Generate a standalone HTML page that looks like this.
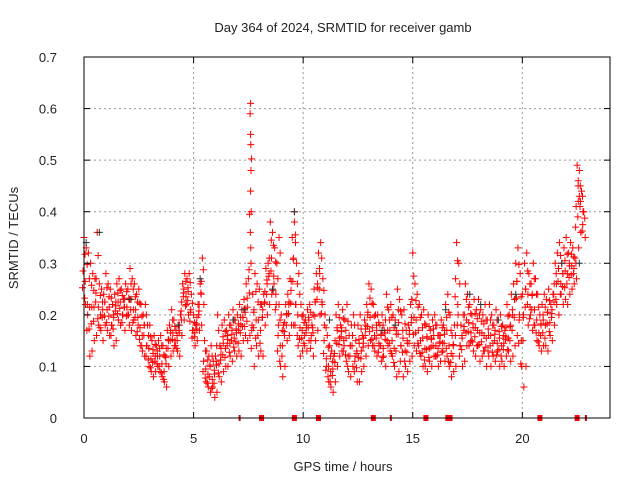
<!DOCTYPE html>
<html><head><meta charset="utf-8"><style>
body{margin:0;background:#fff}
svg text{font-family:"Liberation Sans",sans-serif;font-size:13px;fill:#222}
</style></head><body>
<svg id="chart" width="640" height="480" viewBox="0 0 640 480" xmlns="http://www.w3.org/2000/svg">
<text x="343" y="32" text-anchor="middle">Day 364 of 2024, SRMTID for receiver gamb</text>
<text transform="translate(18,238) rotate(-90)" text-anchor="middle">SRMTID / TECUs</text>
<text x="343" y="471" text-anchor="middle">GPS time / hours</text>
<g id="grid"></g><g id="marks"></g><g id="axes"></g>
</svg>
<script>
const startHour = 0.0;
const stepHour = 0.1;
const hiVals = [.35,.33,.32,.30,.28,.27,.36,.26,.25,.24,.28,.26,.25,.22,.24,.26,.27,.25,.23,.26,.25,.29,.27,.26,.24,.25,.22,.20,.22,.18,.18,.15,.16,.14,.15,.16,.14,.12,.17,.18,.21,.19,.17,.18,.20,.26,.28,.27,.28,.24,.20,.18,.22,.26,.31,.15,.13,.12,.14,.11,.12,.20,.14,.18,.19,.17,.20,.18,.21,.19,.20,.22,.21,.23,.26,.27,.61,.24,.28,.26,.25,.22,.24,.29,.30,.38,.36,.33,.30,.22,.20,.18,.22,.24,.27,.35,.40,.30,.28,.22,.20,.19,.21,.22,.18,.25,.28,.32,.34,.27,.20,.16,.14,.13,.12,.20,.22,.18,.21,.19,.22,.16,.18,.20,.15,.18,.20,.16,.19,.22,.26,.25,.22,.20,.20,.18,.20,.17,.24,.21,.22,.20,.19,.25,.23,.20,.21,.17,.18,.22,.32,.26,.24,.22,.20,.21,.18,.20,.17,.19,.20,.18,.16,.19,.18,.22,.24,.20,.16,.18,.34,.30,.18,.20,.26,.24,.22,.20,.23,.21,.23,.21,.20,.22,.19,.22,.20,.18,.21,.19,.20,.18,.17,.22,.20,.24,.26,.30,.33,.28,.24,.30,.32,.28,.26,.30,.27,.24,.20,.22,.24,.23,.25,.22,.24,.30,.32,.34,.30,.33,.35,.32,.34,.33,.31,.49,.48,.44,.40];
const loVals = [.22,.20,.12,.13,.15,.16,.18,.17,.15,.18,.17,.16,.18,.14,.15,.19,.18,.20,.17,.20,.18,.17,.19,.16,.18,.14,.13,.12,.14,.10,.09,.08,.09,.10,.09,.08,.07,.06,.10,.12,.13,.14,.13,.12,.16,.19,.22,.20,.21,.17,.14,.15,.17,.18,.22,.07,.06,.05,.06,.04,.05,.08,.07,.09,.10,.10,.12,.11,.13,.12,.13,.12,.15,.16,.15,.16,.18,.10,.14,.12,.13,.12,.18,.20,.22,.24,.26,.22,.18,.10,.08,.10,.15,.16,.18,.18,.22,.14,.12,.13,.14,.13,.15,.16,.12,.15,.17,.20,.22,.18,.10,.07,.06,.05,.07,.10,.12,.13,.14,.11,.09,.08,.10,.12,.07,.07,.09,.10,.12,.14,.15,.14,.13,.12,.14,.11,.12,.10,.14,.13,.12,.10,.08,.09,.14,.08,.10,.09,.11,.12,.14,.13,.14,.12,.10,.10,.09,.11,.10,.12,.12,.10,.11,.13,.11,.12,.10,.08,.09,.10,.20,.14,.10,.11,.14,.14,.15,.13,.12,.14,.11,.12,.13,.10,.12,.10,.12,.11,.13,.10,.11,.10,.12,.13,.11,.12,.14,.16,.20,.10,.06,.10,.18,.20,.17,.18,.15,.14,.13,.14,.14,.13,.16,.15,.18,.22,.20,.24,.22,.23,.22,.24,.25,.26,.27,.33,.36,.40,.35];
const spikeT = [7.58,7.6,7.61,7.62,7.6,7.63,7.59,7.61,7.62,8.9,8.95,9.6,9.65,22.55,22.6];
const spikeV = [0.59,0.55,0.53,0.48,0.44,0.40,0.36,0.33,0.30,0.35,0.32,0.38,0.34,0.46,0.43];
const blackT = [0.1,0.7,2.1,4.3,5.3,6.8,7.3,8.6,9.6,11.2,13.6,14.2,16.5,17.6,18.1,18.9,19.7,21.8,22.6];
const blackV = [0.34,0.36,0.23,0.18,0.27,0.19,0.21,0.25,0.40,0.19,0.17,0.18,0.21,0.24,0.22,0.19,0.24,0.30,0.30];
const gapRedT = [8.1,9.6,10.7,13.2,15.6,16.6,16.7,20.8,22.5];
const gapTickT = [7.1,14.0,22.9];
const xTicks = [0,5,10,15,20];
const yTicks = [0,0.1,0.2,0.3,0.4,0.5,0.6,0.7];
const yTickLabels = ["0","0.1","0.2","0.3","0.4","0.5","0.6","0.7"];

const L=84,R=610,T=57,B=418,XMAX=24,YMAX=0.7;
const xs=t=>L+(t/XMAX)*(R-L);
const ys=v=>B-(v/YMAX)*(B-T);
const NS='http://www.w3.org/2000/svg';
function mk(tag,attrs,parent){const e=document.createElementNS(NS,tag);for(const k in attrs)e.setAttribute(k,attrs[k]);parent.appendChild(e);return e;}
const grid=document.getElementById('grid'),marks=document.getElementById('marks'),axes=document.getElementById('axes');
xTicks.forEach(t=>{
  if(t>0){const g=mk('line',{x1:xs(t),x2:xs(t),y1:T,y2:B,stroke:'#999','stroke-dasharray':'2,3'},grid);
  
  }
  const lb=mk('text',{x:xs(t),y:B+25,'text-anchor':'middle'},axes);lb.textContent=t;
  
  
  mk('line',{x1:xs(t),x2:xs(t),y1:B,y2:B-6,stroke:'#000'},axes);
  mk('line',{x1:xs(t),x2:xs(t),y1:T,y2:T+6,stroke:'#000'},axes);
});
yTicks.forEach((v,i)=>{
  if(v>0&&v<YMAX){const g=mk('line',{x1:L,x2:R,y1:ys(v),y2:ys(v),stroke:'#999','stroke-dasharray':'2,3'},grid);
  
  }
  const lb=mk('text',{x:L-27,y:ys(v)+5,'text-anchor':'end'},axes);lb.textContent=yTickLabels[i];
  
  
  mk('line',{x1:L,x2:L+6,y1:ys(v),y2:ys(v),stroke:'#000'},axes);
  mk('line',{x1:R,x2:R-6,y1:ys(v),y2:ys(v),stroke:'#000'},axes);
});
const frame=mk('rect',{x:L,y:T,width:R-L,height:B-T,fill:'none',stroke:'#000'},axes);


function plus(x,y,c,name){const p=mk('path',{d:`M${x-3.5},${y}h7M${x},${y-3.5}v7`,stroke:c,'stroke-width':1,fill:'none'},marks);

}
hiVals.forEach((h,i)=>{
  const t=startHour+i*stepHour,lo=loVals[i],x=xs(t);
  plus(x,ys(h),'#f00','point-high');
  plus(x+1.5,ys(lo),'#f00','point-low');
  plus(x-1,ys((h+lo)/2),'#f00','point-mid');
  plus(x+1,ys((h*3+lo)/4),'#f00','point-upper');
  plus(x-1.5,ys((h+lo*3)/4),'#f00','point-lower');
});
spikeT.forEach((t,i)=>plus(xs(t),ys(spikeV[i]),'#f00','spike-point'));
blackT.forEach((t,i)=>plus(xs(t),ys(blackV[i]),'#333','black-point'));
gapRedT.forEach(t=>{const r=mk('rect',{x:xs(t)-2.5,y:B-3,width:5,height:6,fill:'#f00'},marks);

});
gapTickT.forEach(t=>{const r=mk('rect',{x:xs(t)-1,y:B-3,width:2,height:6,fill:'#c00'},marks);

});
</script>
</body></html>
